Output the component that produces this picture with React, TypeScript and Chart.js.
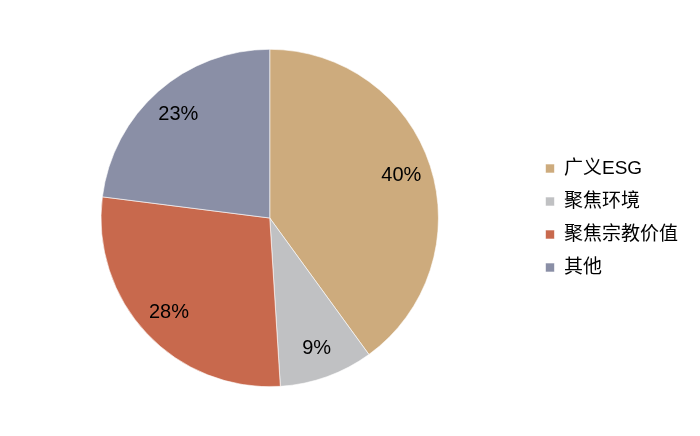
import React, { useEffect, useRef } from "react";
import { Chart, registerables } from "chart.js";

Chart.register(...registerables);

const categories = ["广义ESG", "聚焦环境", "聚焦宗教价值", "其他"];
const shares = [40, 9, 28, 23];
const sliceColors = ["#CDAB7D", "#C0C1C3", "#C8694D", "#8A8FA6"];

const FONT = "'Liberation Sans', Arial, 'Noto Sans CJK SC', sans-serif";

const pctLabels = {
  id: "pctLabels",
  afterDatasetsDraw(chart: any) {
    const { ctx } = chart;
    const meta = chart.getDatasetMeta(0);
    const data = chart.data.datasets[0].data as number[];
    ctx.save();
    ctx.font = `20px ${FONT}`;
    ctx.fillStyle = "#000";
    ctx.textAlign = "center";
    ctx.textBaseline = "middle";
    meta.data.forEach((arc: any, i: number) => {
      const { x, y, startAngle, endAngle, outerRadius } = arc.getProps(
        ["x", "y", "startAngle", "endAngle", "outerRadius"],
        true
      );
      const mid = (startAngle + endAngle) / 2;
      const r = outerRadius * 0.82;
      ctx.fillText(`${data[i]}%`, x + Math.cos(mid) * r, y + Math.sin(mid) * r);
    });
    ctx.restore();
  },
};

export default function App() {
  const ref = useRef<HTMLCanvasElement | null>(null);
  useEffect(() => {
    if (!ref.current) return;
    const chart = new Chart(ref.current, {
      type: "pie",
      data: {
        labels: categories,
        datasets: [
          {
            data: shares,
            backgroundColor: sliceColors,
            borderColor: "#ffffff",
            borderWidth: 0.6,
          },
        ],
      },
      options: {
        responsive: false,
        animation: false,
        layout: { padding: { top: 41, bottom: 41, left: 0, right: 4 } },
        plugins: {
          tooltip: { enabled: false },
          legend: {
            position: "right",
            align: "center",
            labels: {
              boxWidth: 9,
              boxHeight: 9,
              padding: 14,
              color: "#000",
              font: { size: 19, family: FONT },
            },
          },
        },
      },
      plugins: [pctLabels],
    });
    return () => chart.destroy();
  }, []);
  return <canvas ref={ref} width={684} height={420} style={{ display: "block" }} />;
}
